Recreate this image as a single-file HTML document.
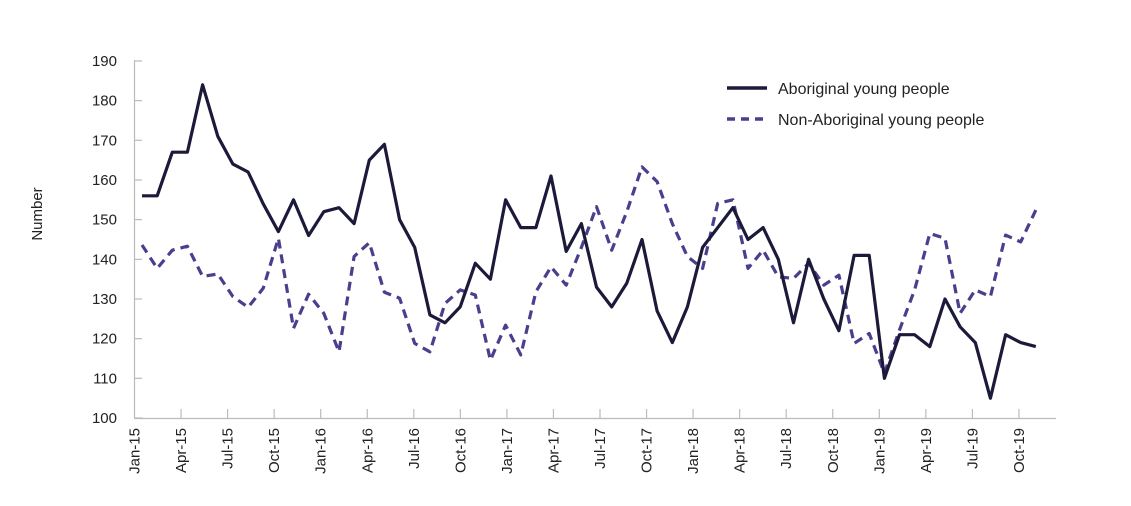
<!DOCTYPE html>
<html><head><meta charset="utf-8"><style>
body{margin:0;background:#fff;width:1131px;height:501px;overflow:hidden}
svg text{font-family:"Liberation Sans",sans-serif;fill:#222}
</style></head><body>
<svg id="s" width="1131" height="501" xmlns="http://www.w3.org/2000/svg"></svg>
<script>
var s=document.getElementById('s'),h='';
function Y(v){return 418-(v-100)*3.967;}
// axes
h+='<line x1="134.5" y1="60" x2="134.5" y2="418" stroke="#bbb" stroke-width="1.2"/>';
h+='<line x1="134" y1="418.5" x2="1056" y2="418.5" stroke="#bbb" stroke-width="1.2"/>';
for(var v=100;v<=190;v+=10){var y=Y(v);
 h+='<line x1="134" y1="'+y+'" x2="142" y2="'+y+'" stroke="#bbb" stroke-width="1.2"/>';
 h+='<text x="117" y="'+(y+5)+'" font-size="15" text-anchor="end">'+v+'</text>';}
var labs=['Jan','Apr','Jul','Oct'];
for(var k=0;k<20;k++){var x=134.5+k*46.55;
 if(k>0)h+='<line x1="'+x+'" y1="409" x2="'+x+'" y2="418" stroke="#bbb" stroke-width="1.2"/>';
 var t=labs[k%4]+'-'+(15+Math.floor(k/4));
 h+='<text transform="translate('+(x+5)+',428) rotate(-90)" font-size="15" text-anchor="end">'+t+'</text>';}
h+='<text transform="translate(42,214) rotate(-90)" font-size="15" text-anchor="middle">Number</text>';
var a=[156,156,167,167,184,171,164,162,154,147,155,146,152,153,149,165,169,150,143,126,124,128,139,135,155,148,148,161,142,149,133,128,134,145,127,119,128,143,148,153,145,148,140,124,140,130,122,141,141,110,121,121,118,130,123,119,105,121,119,118];
var b=[143.6,137.7,142.3,143.3,135.7,136.3,130.6,127.9,132.7,145.3,122.6,131.2,126.4,116.7,140.7,144.2,131.7,130.2,118.8,116.7,128.9,132.3,131,114.6,123.4,115.9,131.8,138.1,133.5,143,153.3,142.3,152,163.3,159.6,149,140.7,137.7,154.1,155,137.7,142.3,135.6,135.2,139,133.5,136,118.8,121.3,111.3,122.2,132.3,146.5,145.3,126.4,132.3,130.6,146.1,144.4,152.4];
function P(d){return d.map(function(v,i){return (i?'L':'M')+(142+i*15.15).toFixed(1)+','+Y(v).toFixed(1)}).join('');}
h+='<path d="'+P(b)+'" fill="none" stroke="#4a3f8c" stroke-width="3.2" stroke-dasharray="9,6" stroke-linejoin="round"/>';
h+='<path d="'+P(a)+'" fill="none" stroke="#1c1a3a" stroke-width="3.2" stroke-linejoin="round"/>';
h+='<line x1="727" y1="88" x2="767" y2="88" stroke="#1c1a3a" stroke-width="3.5"/>';
h+='<text x="778" y="94" font-size="16">Aboriginal young people</text>';
h+='<line x1="727" y1="119" x2="767" y2="119" stroke="#4a3f8c" stroke-width="3.5" stroke-dasharray="8,6"/>';
h+='<text x="778" y="125" font-size="16">Non-Aboriginal young people</text>';
s.innerHTML=h;
</script>
</body></html>
